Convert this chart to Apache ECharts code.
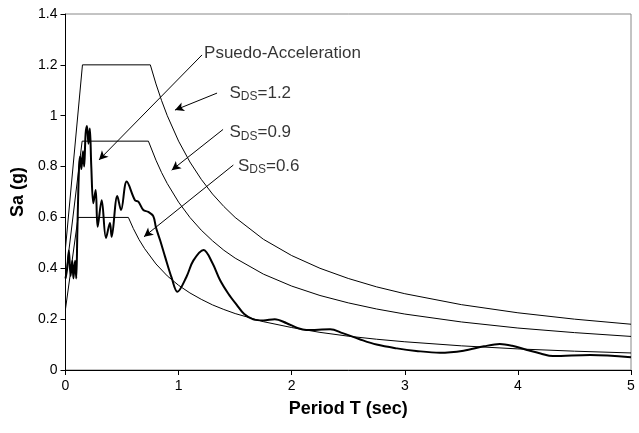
<!DOCTYPE html>
<html><head><meta charset="utf-8">
<script src="https://cdn.jsdelivr.net/npm/echarts@6/dist/echarts.min.js"></script>
<style>html,body{margin:0;padding:0;background:#fff}#c{width:639px;height:433px}</style>
</head><body><div id="c"></div>
<script>
// Design spectra (T sec, Sa g)
var sds12 = [[0,0.48],[0.15,1.2],[0.75,1.2],[0.8,1.125],[0.85,1.059],[0.9,1.0],[1.0,0.9],[1.1,0.818],[1.2,0.75],[1.3,0.692],[1.4,0.643],[1.5,0.6],[1.75,0.514],[2,0.45],[2.25,0.4],[2.5,0.36],[2.75,0.327],[3,0.3],[3.5,0.257],[4,0.225],[4.5,0.2],[5,0.18]];
var sds09 = [[0,0.36],[0.147,0.9],[0.733,0.9],[0.8,0.825],[0.85,0.776],[0.9,0.733],[1.0,0.66],[1.1,0.6],[1.2,0.55],[1.3,0.508],[1.4,0.471],[1.5,0.44],[1.75,0.377],[2,0.33],[2.25,0.293],[2.5,0.264],[2.75,0.24],[3,0.22],[3.5,0.189],[4,0.165],[4.5,0.147],[5,0.132]];
var sds06 = [[0,0.24],[0.111,0.6],[0.556,0.6],[0.6,0.556],[0.65,0.513],[0.7,0.477],[0.8,0.417],[0.9,0.37],[1.0,0.333],[1.1,0.303],[1.2,0.278],[1.3,0.256],[1.4,0.238],[1.5,0.222],[1.75,0.19],[2,0.167],[2.25,0.148],[2.5,0.133],[2.75,0.121],[3,0.111],[3.5,0.095],[4,0.083],[4.5,0.074],[5,0.067]];
// Pseudo-acceleration response spectrum
var pseudo = [[0,0.36],[0.015,0.4],[0.03,0.47],[0.045,0.37],[0.06,0.43],[0.07,0.36],[0.085,0.43],[0.095,0.36],[0.105,0.55],[0.12,0.8],[0.13,0.84],[0.14,0.79],[0.155,0.86],[0.165,0.8],[0.178,0.93],[0.19,0.96],[0.203,0.89],[0.215,0.95],[0.228,0.8],[0.246,0.656],[0.267,0.708],[0.284,0.563],[0.32,0.668],[0.358,0.519],[0.393,0.578],[0.408,0.524],[0.458,0.684],[0.491,0.629],[0.541,0.741],[0.614,0.668],[0.644,0.662],[0.688,0.629],[0.732,0.622],[0.776,0.605],[0.8,0.56],[0.836,0.511],[0.88,0.446],[0.939,0.362],[0.989,0.308],[1.07,0.367],[1.13,0.43],[1.22,0.472],[1.3,0.42],[1.366,0.354],[1.44,0.3],[1.514,0.256],[1.58,0.22],[1.66,0.199],[1.75,0.195],[1.85,0.2],[1.956,0.184],[2.05,0.165],[2.13,0.157],[2.34,0.16],[2.45,0.145],[2.6,0.121],[2.75,0.1],[2.93,0.085],[3.1,0.075],[3.31,0.068],[3.52,0.076],[3.7,0.093],[3.84,0.102],[3.95,0.095],[4.08,0.079],[4.2,0.065],[4.31,0.055],[4.64,0.059],[5,0.05]];
// Annotation arrows [start, end] and labels
var arrows = [[[1.207,1.239],[0.296,0.826]],[[1.34,1.089],[0.968,1.022]],[[1.393,0.946],[0.939,0.786]],[[1.484,0.806],[0.694,0.524]]];
var labels = [[1.225,1.247,'Psuedo-Acceleration'],[1.45,1.088,'{a|S}{b|DS}{a|=1.2}'],[1.45,0.933,'{a|S}{b|DS}{a|=0.9}'],[1.525,0.802,'{a|S}{b|DS}{a|=0.6}']];
var xTicks = [0,1,2,3,4,5];
var yTicks = [0,0.2,0.4,0.6,0.8,1,1.2,1.4];

var FONT = 'Liberation Sans, Arial, sans-serif';
var chart = echarts.init(document.getElementById('c'));
function design(name, data){
  return {name:name,type:'line',data:data,symbol:'none',silent:true,
    lineStyle:{color:'#000',width:1},z:2};
}
chart.setOption({
  animation:false,
  grid:{left:65.5,right:8,top:14,bottom:63,show:true,borderColor:'#888',borderWidth:1},
  xAxis:{type:'value',min:xTicks[0],max:xTicks[xTicks.length-1],interval:1,
    name:'Period T (sec)',nameLocation:'middle',nameGap:30,
    nameTextStyle:{fontFamily:FONT,fontWeight:'bold',fontSize:18,color:'#000'},
    axisLine:{show:true,lineStyle:{color:'#000',width:1}},
    axisTick:{show:true,length:5,lineStyle:{color:'#000'}},
    axisLabel:{fontFamily:FONT,fontSize:14,color:'#000',margin:9},
    splitLine:{show:false}},
  yAxis:{type:'value',min:yTicks[0],max:yTicks[yTicks.length-1],interval:0.2,
    name:'Sa (g)',nameLocation:'middle',nameGap:38,
    nameTextStyle:{fontFamily:FONT,fontWeight:'bold',fontSize:18,color:'#000'},
    axisLine:{show:true,lineStyle:{color:'#000',width:1}},
    axisTick:{show:true,length:5,lineStyle:{color:'#000'}},
    axisLabel:{fontFamily:FONT,fontSize:14,color:'#000',margin:8},
    splitLine:{show:false}},
  series:[
    design('SDS=1.2',sds12),
    design('SDS=0.9',sds09),
    design('SDS=0.6',sds06),
    {name:'Pseudo',type:'line',data:pseudo,symbol:'none',smooth:0.35,silent:true,
     lineStyle:{color:'#000',width:2},z:3,
     markLine:{silent:true,symbol:['none','arrow'],symbolSize:[7,9],
       lineStyle:{color:'#000',width:1,type:'solid'},label:{show:false},
       data:arrows.map(function(a){return [{coord:a[0]},{coord:a[1]}];})}},
    {name:'labels',type:'scatter',symbolSize:0,silent:true,
     data:labels.map(function(l){return {value:[l[0],l[1]],txt:l[2]};}),
     label:{show:true,position:'right',distance:0,
       formatter:function(p){return labels[p.dataIndex][2];},
       fontFamily:FONT,fontSize:17,color:'#000',
       rich:{a:{fontFamily:FONT,fontSize:17,color:'#000'},
             b:{fontFamily:FONT,fontSize:12,color:'#000',padding:[7,0,0,0]}}}}
  ]
});
</script></body></html>
